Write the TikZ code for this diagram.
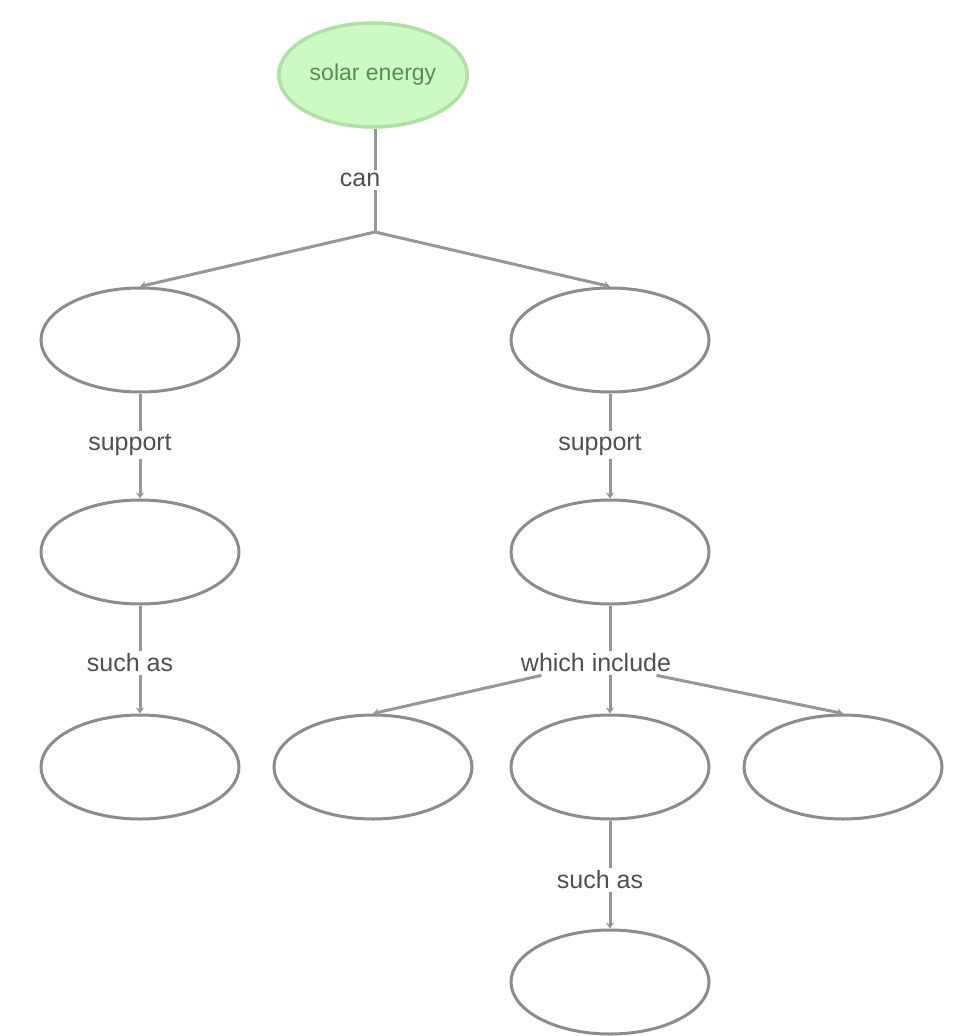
\documentclass[tikz,border=0pt]{standalone}
\usepackage{fontspec}
\setmainfont{Liberation Sans}
\usetikzlibrary{shapes.geometric,arrows.meta}
\definecolor{edgegray}{RGB}{150,150,150}
\definecolor{ellgray}{RGB}{140,140,140}
\definecolor{labgray}{RGB}{80,80,80}
\definecolor{topfill}{RGB}{205,250,195}
\definecolor{topborder}{RGB}{175,225,165}
\definecolor{toptext}{RGB}{90,140,80}
\begin{document}
\begin{tikzpicture}[x=1pt,y=-1pt,
  concept/.style={ellipse,draw=ellgray,line width=3pt,minimum width=198pt,minimum height=104pt,fill=white},
  topconcept/.style={ellipse,draw=topborder,line width=3.5pt,fill=topfill,minimum width=188pt,minimum height=104pt,
     font=\fontsize{23}{27}\selectfont,text=toptext},
  linklabel/.style={fill=white,inner sep=3pt,font=\fontsize{25}{29}\selectfont,text=labgray},
  link/.style={draw=edgegray,line width=3pt},
  arr/.style={link,-{Stealth[length=6pt,width=8pt]}}]
\useasboundingbox (0,0) rectangle (961,1036);
\node[topconcept] (top) at (373,75) {solar energy};
\node[linklabel] (can) at (360,180) {can};
\coordinate (j) at (375,232);
\node[concept] (a) at (140,340) {};
\node[concept] (b) at (610,340) {};
\node[linklabel] (sa) at (130,445) {support};
\node[linklabel] (sb) at (600,445) {support};
\node[concept] (a2) at (140,552) {};
\node[concept] (b2) at (610,552) {};
\node[linklabel] (ta) at (130,663) {such as};
\node[linklabel] (wi) at (596,663) {which include};
\node[concept] (a3) at (140,767) {};
\node[concept] (c1) at (373,767) {};
\node[concept] (c2) at (610,767) {};
\node[concept] (c3) at (843,767) {};
\node[linklabel] (tb) at (600,880) {such as};
\node[concept] (b4) at (610,982) {};
\draw[link] (top.south -| j) -- (can.north -| j);
\draw[link] (can.south -| j) -- (j);
\draw[arr] (j) -- (a.north);
\draw[arr] (j) -- (b.north);
\draw[link] (a.south) -- (sa.north -| a.south);
\draw[arr] (sa.south -| a.north) -- (a2.north);
\draw[link] (b.south) -- (sb.north -| b.south);
\draw[arr] (sb.south -| b.north) -- (b2.north);
\draw[link] (a2.south) -- (ta.north -| a2.south);
\draw[arr] (ta.south -| a2.north) -- (a3.north);
\draw[link] (b2.south) -- (wi.north -| b2.south);
\draw[arr] (wi) -- (c1.north);
\draw[arr] (wi.south -| c2.north) -- (c2.north);
\draw[arr] (wi) -- (c3.north);
\draw[link] (c2.south) -- (tb.north -| c2.south);
\draw[arr] (tb.south -| c2.north) -- (b4.north);
\end{tikzpicture}
\end{document}
